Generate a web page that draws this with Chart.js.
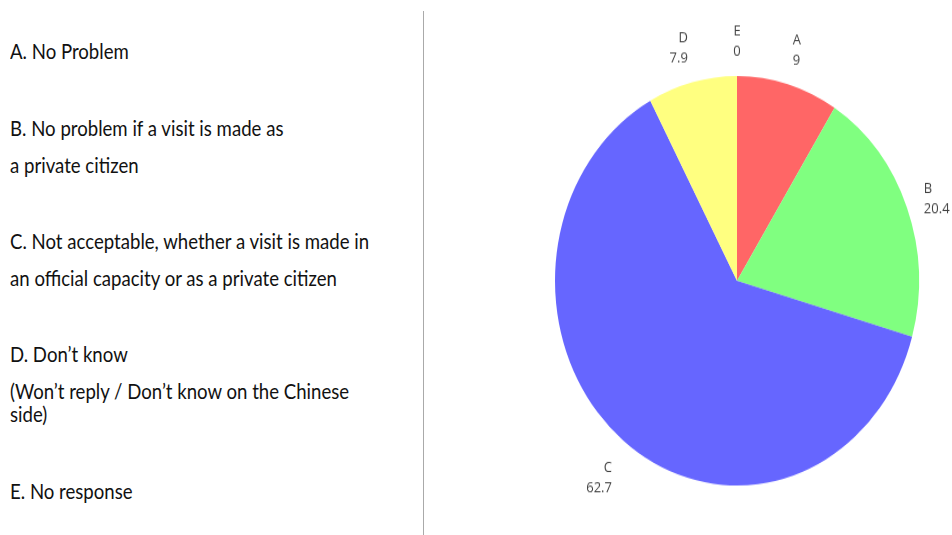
<!DOCTYPE html>
<html>
<head>
<meta charset="utf-8">
<script src="https://cdn.jsdelivr.net/npm/chart.js@4.4.0/dist/chart.umd.min.js"></script>
<style>
    html, body { margin: 0; padding: 0; background: #fff; }
    body { width: 952px; height: 535px; position: relative; overflow: hidden; }
    .note {
        position: absolute;
        left: 10px;
        font-family: Lato, "Open Sans", sans-serif;
        font-size: 18.6px;
        line-height: 18px;
        color: #111;
        white-space: nowrap;
        transform: scaleY(1.1);
        transform-origin: left center;
    }
    #divider {
        position: absolute;
        left: 423px;
        top: 11px;
        width: 1px;
        height: 524px;
        background: #aaa;
    }
    #pieBox {
        position: absolute;
        left: 515px;
        top: -13.75px;
        width: 444px;
        height: 524px;
        transform: scaleY(1.125);
        transform-origin: left top;
    }
</style>
</head>
<body>
<div class="note" style="top:42px">A. No Problem</div>
<div class="note" style="top:119px">B. No problem if a visit is made as</div>
<div class="note" style="top:156px">a private citizen</div>
<div class="note" style="top:232px">C. Not acceptable, whether a visit is made in</div>
<div class="note" style="top:269px">an official capacity or as a private citizen</div>
<div class="note" style="top:345px">D. Don’t know</div>
<div class="note" style="top:382px">(Won’t reply / Don’t know on the Chinese</div>
<div class="note" style="top:405px">side)</div>
<div class="note" style="top:482px">E. No response</div>
<div id="divider"></div>
<div id="pieBox"><canvas id="pieChart" width="444" height="524"></canvas></div>

<script>
// Dữ liệu biểu đồ tròn
const categories = ['A', 'B', 'C', 'D', 'E'];
const percentages = [9, 20.4, 62.7, 7.9, 0];
const sliceColors = ['#ff6666', '#80ff80', '#6666ff', '#ffff80', '#ff80ff'];

// Plugin vẽ nhãn (tên + giá trị) bên ngoài mỗi lát
const outsideLabels = {
    id: 'outsideLabels',
    afterDatasetsDraw(chart) {
        const ctx = chart.ctx;
        const meta = chart.getDatasetMeta(0);
        ctx.save();
        ctx.font = '13px "Open Sans", sans-serif';
        ctx.fillStyle = '#444';
        ctx.textBaseline = 'middle';
        meta.data.forEach((arc, i) => {
            const mid = (arc.startAngle + arc.endAngle) / 2;
            const c = Math.cos(mid + Math.PI / 2);
            const r = arc.outerRadius + 18;
            const x = arc.x + Math.cos(mid) * r;
            // khối chữ 2 dòng đặt lệch lên/xuống theo phía của lát
            const y = arc.y + Math.sin(mid) * r - 18 * c + 5;
            const dx = x - arc.x;
            if (dx > 8) ctx.textAlign = 'left';
            else if (dx < -8) ctx.textAlign = 'right';
            else ctx.textAlign = 'center';
            ctx.fillText(categories[i], x, y - 9);
            ctx.fillText(String(percentages[i]), x, y + 9);
        });
        ctx.restore();
    }
};

function initChart() {
    const ctx = document.getElementById('pieChart').getContext('2d');
    new Chart(ctx, {
        type: 'pie',
        data: {
            labels: categories,
            datasets: [{
                data: percentages,
                backgroundColor: sliceColors,
                borderWidth: 0
            }]
        },
        options: {
            responsive: false,
            animation: false,
            layout: { padding: { top: 80, bottom: 80, left: 40, right: 40 } },
            plugins: {
                legend: { display: false },
                tooltip: { enabled: false }
            }
        },
        plugins: [outsideLabels]
    });
}

document.addEventListener('DOMContentLoaded', initChart);
</script>
</body>
</html>
